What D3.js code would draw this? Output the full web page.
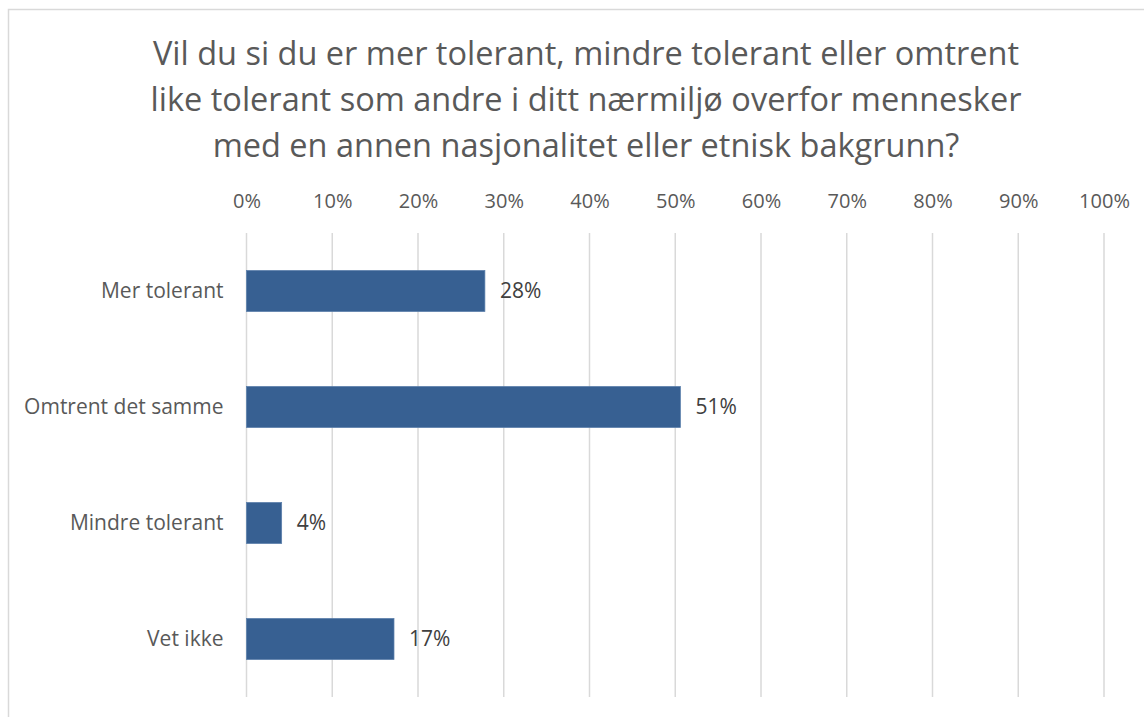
<!DOCTYPE html>
<html>
<head>
<meta charset="utf-8">
<script src="https://cdn.jsdelivr.net/npm/d3@7"></script>
<style>
  body { margin: 0; background: #fff; }
  text { font-family: "Open Sans", sans-serif; }
</style>
</head>
<body>
<svg id="chart" width="1144" height="717"></svg>
<script>
    // data
    var categories = ['Mer tolerant', 'Omtrent det samme', 'Mindre tolerant', 'Vet ikke'];
    var values = [0.278, 0.506, 0.041, 0.172];
    var tickValues = [0, 0.1, 0.2, 0.3, 0.4, 0.5, 0.6, 0.7, 0.8, 0.9, 1];
    var titleLines = [
        'Vil du si du er mer tolerant, mindre tolerant eller omtrent',
        'like tolerant som andre i ditt nærmiljø overfor mennesker',
        'med en annen nasjonalitet eller etnisk bakgrunn?'
    ];

    var font = '"Open Sans", sans-serif';
    var svg = d3.select('#chart');

    // outer frame of chart area
    svg.append('rect')
       .attr('x', 8.5)
       .attr('y', 9.5)
       .attr('width', 1160)
       .attr('height', 740)
       .attr('fill', 'white')
       .attr('stroke', '#d9d9d9')
       .attr('stroke-width', 1.5);

    var margin = {left: 246.5, top: 233, right: 40, bottom: 20};
    var w = 1104 - margin.left;
    var h = 697 - margin.top;

    var xScale = d3.scaleLinear()
                   .domain([0, 1])
                   .range([0, w]);

    var yScale = d3.scaleBand()
                   .domain(categories)
                   .range([0, h])
                   .paddingInner(0.646)
                   .paddingOuter(0.323);

    var g = svg.append('g')
               .attr('transform', 'translate(' + margin.left + ',' + margin.top + ')');

    // title
    svg.append('g')
       .selectAll('text')
       .data(titleLines)
       .enter()
       .append('text')
       .attr('x', 586)
       .attr('y', function(d, i) { return 65 + i * 46; })
       .attr('text-anchor', 'middle')
       .attr('font-size', '32.5px')
       .attr('fill', '#595959')
       .text(function(d) { return d; });

    // gridlines
    g.append('g')
     .selectAll('line')
     .data(tickValues)
     .enter()
     .append('line')
     .attr('x1', function(d) { return xScale(d); })
     .attr('x2', function(d) { return xScale(d); })
     .attr('y1', 0)
     .attr('y2', h)
     .attr('stroke', '#d9d9d9')
     .attr('stroke-width', 1.5);

    // top axis
    var xAxis = d3.axisTop(xScale)
                  .tickValues(tickValues)
                  .tickFormat(d3.format('.0%'))
                  .tickSize(0)
                  .tickPadding(25);

    g.append('g')
     .attr('class', 'x axis')
     .call(xAxis)
     .call(function(a) { a.select('.domain').remove(); })
     .selectAll('text')
     .attr('font-family', font)
     .attr('font-size', '20px')
     .attr('fill', '#595959');

    // left axis
    var yAxis = d3.axisLeft(yScale)
                  .tickSize(0)
                  .tickPadding(23);

    g.append('g')
     .attr('class', 'y axis')
     .call(yAxis)
     .call(function(a) { a.select('.domain').remove(); })
     .selectAll('text')
     .attr('font-family', font)
     .attr('font-size', '21px')
     .attr('fill', '#595959');

    // bars
    g.append('g')
     .selectAll('rect')
     .data(values)
     .enter()
     .append('rect')
     .attr('x', 0)
     .attr('y', function(d, i) { return yScale(categories[i]); })
     .attr('width', function(d) { return xScale(d); })
     .attr('height', yScale.bandwidth())
     .attr('fill', '#376092')
     .attr('stroke', '#5b7fab')
     .attr('stroke-width', 0.75);

    // data labels
    g.append('g')
     .selectAll('text')
     .data(values)
     .enter()
     .append('text')
     .attr('x', function(d) { return xScale(d) + 15; })
     .attr('y', function(d, i) { return yScale(categories[i]) + yScale.bandwidth() / 2; })
     .attr('dy', '0.35em')
     .attr('font-size', '21px')
     .attr('fill', '#404040')
     .text(function(d) { return d3.format('.0%')(d); });
</script>
</body>
</html>
